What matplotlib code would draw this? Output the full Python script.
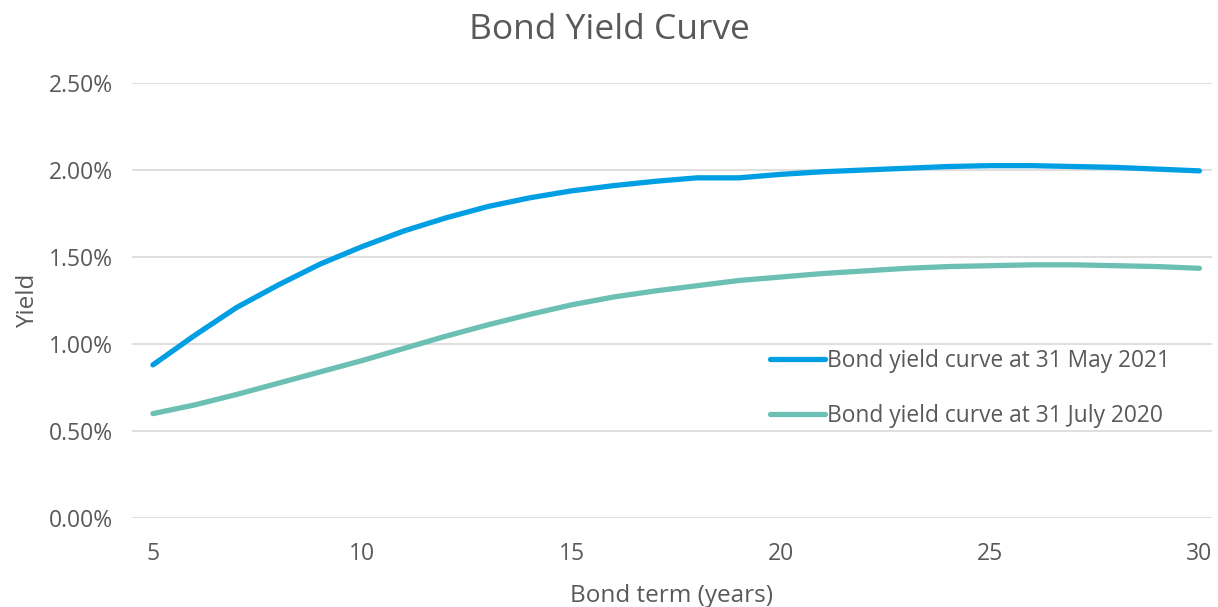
import matplotlib
matplotlib.use("Agg")
from matplotlib import pyplot as plt
from matplotlib.ticker import FuncFormatter

# Bond term in years
terms = list(range(5, 31))

# Yields in percent
may_2021 = [0.88, 1.05, 1.21, 1.34, 1.46, 1.56, 1.65, 1.725, 1.79, 1.84,
            1.88, 1.91, 1.935, 1.955, 1.955, 1.975, 1.99, 2.0, 2.01, 2.02,
            2.025, 2.025, 2.02, 2.015, 2.005, 1.995]
july_2020 = [0.60, 0.65, 0.71, 0.775, 0.84, 0.905, 0.975, 1.045, 1.11, 1.17,
             1.225, 1.27, 1.305, 1.335, 1.365, 1.385, 1.405, 1.42, 1.435, 1.445,
             1.45, 1.455, 1.455, 1.45, 1.445, 1.435]

labels = ["Bond yield curve at 31 May 2021", "Bond yield curve at 31 July 2020"]
colors = ["#009FE3", "#6CC0B3"]
x_ticks = [5, 10, 15, 20, 25, 30]
y_ticks = [0, 0.5, 1.0, 1.5, 2.0, 2.5]

TEXT = "#595959"
plt.rcParams['font.family'] = ['Open Sans', 'DejaVu Sans']

fig = plt.figure(figsize=(12.18, 6.07), dpi=100)
ax = fig.add_axes([132 / 1218, 1 - 518 / 607, (1212 - 132) / 1218, 435 / 607])

ax.plot(terms, may_2021, color=colors[0], lw=3.8, solid_capstyle='round', label=labels[0])
ax.plot(terms, july_2020, color=colors[1], lw=3.8, solid_capstyle='round', label=labels[1])

ax.set_xlim(4.5, 30.3)
ax.set_ylim(0, 2.5)
ax.set_xticks(x_ticks)
ax.set_yticks(y_ticks)
ax.yaxis.set_major_formatter(FuncFormatter(lambda v, p: "%.2f%%" % v))
ax.grid(axis='y', color='#D9D9D9', lw=1.2)
ax.set_axisbelow(True)
for s in ax.spines.values():
    s.set_visible(False)
ax.tick_params(length=0, labelsize=16.5, labelcolor=TEXT)
ax.tick_params(axis='x', pad=17)
ax.tick_params(axis='y', pad=14)

ax.set_xlabel("Bond term (years)", fontsize=17.5, color=TEXT, labelpad=13)
ax.set_ylabel("Yield", fontsize=17.5, color=TEXT, labelpad=6)
fig.suptitle("Bond Yield Curve", fontsize=25.5, color=TEXT, y=0.978)

leg = ax.legend(loc='upper left', bbox_to_anchor=(0.572, 0.435), frameon=False,
                fontsize=16.4, handlelength=2.4, handletextpad=0.1, labelspacing=1.35)
for t in leg.get_texts():
    t.set_color(TEXT)

plt.savefig("out.png", dpi=100)
